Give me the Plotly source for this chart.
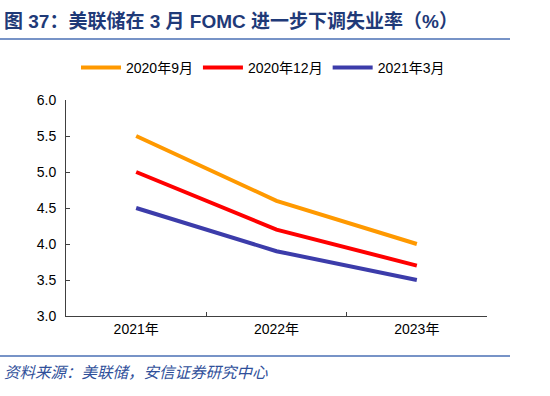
import plotly.graph_objects as go

categories = ["2021年", "2022年", "2023年"]
series_names = ["2020年9月", "2020年12月", "2021年3月"]
sep2020 = [5.5, 4.6, 4.0]
dec2020 = [5.0, 4.2, 3.7]
mar2021 = [4.5, 3.9, 3.5]
colors = ["#FF9900", "#FF0000", "#3C3CAA"]
y_ticks = [3.0, 3.5, 4.0, 4.5, 5.0, 5.5, 6.0]

fig = go.Figure()
for name, vals, c in zip(series_names, [sep2020, dec2020, mar2021], colors):
    fig.add_trace(go.Scatter(x=categories, y=vals, name=name, mode="lines",
                             line=dict(color=c, width=4)))

W, H = 550, 396
L, R, T, B = 66, 63, 100, 80
pw, ph = W - L - R, H - T - B

font_cn = "Liberation Sans, Arial, Noto Sans CJK SC, sans-serif"
fig.update_layout(
    width=W, height=H,
    margin=dict(l=L, r=R, t=T, b=B, autoexpand=False),
    paper_bgcolor="white", plot_bgcolor="white",
    font=dict(family=font_cn, size=14, color="#000000"),
    showlegend=True,
    legend=dict(orientation="h", x=263/W, xref="container", xanchor="center",
                y=1 - 68/H, yref="container", yanchor="middle",
                font=dict(size=14), itemwidth=40, traceorder="normal"),
    xaxis=dict(type="category", tickson="boundaries", ticks="inside", ticklen=4,
               tickcolor="#404040", showline=True, linecolor="#404040", linewidth=1,
               showgrid=False, range=[-0.5, 2.5], tickfont=dict(size=14)),
    yaxis=dict(range=[3.0, 6.0], tickvals=y_ticks, ticktext=[f"{v:.1f}" for v in y_ticks],
               ticks="inside", ticklen=4, tickcolor="#404040", showline=True,
               linecolor="#404040", linewidth=1, showgrid=False, zeroline=False,
               tickfont=dict(size=14), ticklabelstandoff=6),
)
fig.add_annotation(text="<b>图 37：美联储在 3 月 FOMC 进一步下调失业率（%）</b>", xref="paper", yref="paper",
                   x=-L/pw, xanchor="left", y=1 + (T-22)/ph, yanchor="middle", showarrow=False,
                   font=dict(size=19, color="#1F3A78", family="Liberation Sans, Noto Sans CJK SC, sans-serif"),
                   xshift=2)
fig.add_shape(type="line", xref="paper", yref="paper", x0=-L/pw, x1=(510-L)/pw,
              y0=1 + (T-39)/ph, y1=1 + (T-39)/ph, line=dict(color="#4A6FB5", width=1.5))
fig.add_shape(type="line", xref="paper", yref="paper", x0=-L/pw, x1=(510-L)/pw,
              y0=-(356-316)/ph, y1=-(356-316)/ph, line=dict(color="#4A6FB5", width=1.5))
fig.add_annotation(text="<i>资料来源：美联储，安信证券研究中心</i>", xref="paper", yref="paper",
                   x=-L/pw, xanchor="left", y=-(372-316)/ph, yanchor="middle", showarrow=False,
                   font=dict(size=15.5, color="#2F4F9A"), xshift=2)

fig.write_html("out.html", config={"displayModeBar": False},
               post_script="document.body.style.margin='0';document.body.style.overflow='hidden';")
